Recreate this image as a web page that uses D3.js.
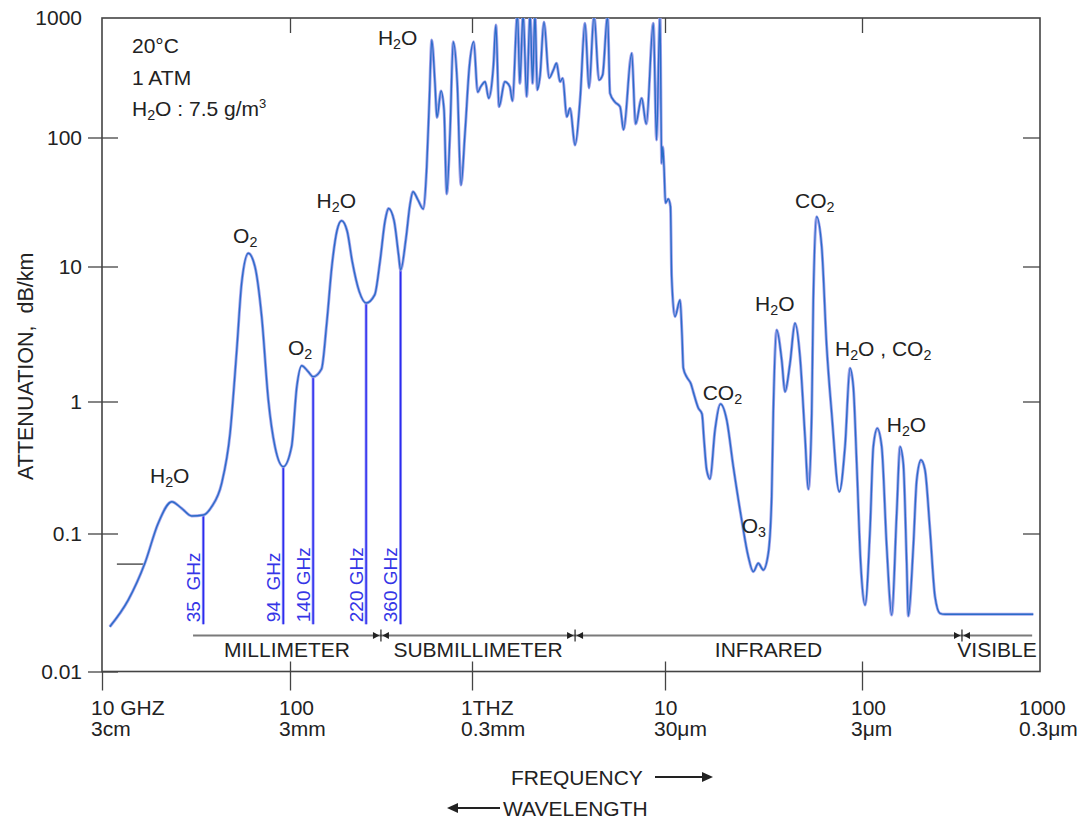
<!DOCTYPE html>
<html><head><meta charset="utf-8">
<script src="https://cdn.jsdelivr.net/npm/d3@7"></script>
<style>
body{margin:0;background:#fff;}
svg text{font-family:"Liberation Sans", Arial, Helvetica, sans-serif;fill:#222;}
</style></head><body>
<svg id="chart" width="1081" height="819"></svg>
<script>
// ---------- DATA (frequency in GHz, attenuation in dB/km) ----------
const mmFreq = [11.0,13.8,16.9,19.9,23.5,26.5,30.0,34.6,38.3,43.3,48.0,52.1,55.3,60.0,65.1,70.7,76.7,83.2,92.1,
  102,109,116,126,134,149,159,170,181,192,206,220,240,262,292,312,333,348,373,395,405];
const mmAtten = [0.0211,0.033,0.0608,0.1195,0.1741,0.1552,0.1357,0.138,0.1596,0.24,0.574,2.41,7.51,12.66,9.97,4.25,1.026,0.4545,0.3207,
  0.4545,1.287,1.842,1.662,1.526,1.741,3.75,10.18,18.84,22.65,18.84,10.84,6.54,5.37,6.17,10.84,22.65,28.15,22.65,12.28,9.42];

const submmFreq = [434,456,474,505,540,564,583,601,626,642,676,702,726,757,789,830,870,915,967,
  1020,1070,1110,1170,1220,1290,1330,1380,1480,1570,1620,1720,1770,1840,1920,2000,2060,2120,2180,2250,2360,
  2510,2640,2740,2860,2950,3100,3220,3420,3630,3850,4040,4290,4550,4750,5040,5190,5510,5850,6100,6720,
  7040,7570,8000,8700,9040,9420,9610,9730,9880];
const submmAtten = [16.63,29.97,38.0,32.77,27.9,59.4,205.9,654.5,284.2,147.0,245,169.9,36.5,108.4,633,284,42.8,108.4,391,
  633,240,266,293,213,391,874,181,293,266,202,1100,284,1100,220,1100,284,1100,250,323,926,
  315,367,418,293,313,149,176,87.5,206,903,260,1050,303,333,1050,234,198,181,116,507,
  130,213,130,903,95.6,1050,63.1,84.9,59.4];

const irFreq = [10060,10390,10660,10810,11240,11920,12200,12390,12890,13550,13920,14760,15410,15780,16280,16920,17940,19130,
  20570,22220,24510,26480,28070,29760,31550,33450,34790,35450,36900,39120,40660,43110,45700,48450,51370,53390,55560,56600,
  58880,62430,66190,70170,76690,81990,86930,90340,93990,98490];
const irAtten = [31.05,33.38,29.1,8.40,4.25,5.65,3.11,1.77,1.519,1.348,1.176,0.893,0.804,0.511,0.303,0.2588,0.608,0.957,
  0.724,0.321,0.1265,0.0679,0.0529,0.0608,0.0544,0.0719,0.190,0.814,3.385,2.029,1.182,1.919,3.796,2.147,0.541,0.2162,0.814,5.65,
  24.32,14.24,2.546,0.814,0.2073,0.4545,1.762,1.287,0.340,0.0608];

const nearIrFreq = [104200,111600,116800,123300,131000,140300,150200,160900,168400,176100,184500,188600,202000,211700,
  224500,237100,254000,272000,291200,311900,1046000];
const nearIrAtten = [0.0303,0.1063,0.4545,0.626,0.4545,0.0802,0.02567,0.1422,0.4545,0.340,0.0608,0.02525,0.0802,0.2542,
  0.3603,0.303,0.1063,0.03483,0.02641,0.026,0.026];

// axis ticks
const yTickValues = [1000,100,10,1,0.1,0.01];
const yTickLabels = ["1000","100","10","1","0.1","0.01"];
const xTickValues = [10,100,1000,10000,100000,1000000];
const xTickFreqLabels = ["10 GHZ","100","1THZ","10","100","1000"];
const xTickWaveLabels = ["3cm","3mm","0.3mm","30\u03bcm","3\u03bcm","0.3\u03bcm"];

// window markers (positions)
const windowLabels = ["35  GHz","94  GHz","140 GHz","220 GHz","360 GHz"];
const windowFreq = [34.6,92.1,134,262,405];
const windowAtten = [0.138,0.3207,1.526,5.37,9.42];
const windowBase = 0.022;

// molecule labels (anchor = start of text, baseline), in data units
const moleculeLabels = ["H_2O","O_2","O_2","H_2O","H_2O","CO_2","O_3","H_2O","CO_2","H_2O , CO_2","H_2O"];
const moleculeFreq = [18.0,49.8,97.6,140,304,15540,24510,28640,45700,72940,140300];
const moleculeAtten = [0.241,15.2,2.21,28.4,594,1.03,0.101,4.68,28.4,2.17,0.587];

// spectral regions
const regionNames = ["MILLIMETER","SUBMILLIMETER","INFRARED","VISIBLE"];
const regionBounds = [30.5,316,3420,393600,1030000];

const conditions = ["20\u00b0C","1 ATM","H_2O : 7.5 g/m^3"];
const refDashFreq = [12.0,16.9];
const refDashAtten = 0.06;

// ---------- CHART ----------
const svg = d3.select("#chart");
const L = 102, R = 1040, T = 18, B = 671.5;

const x = d3.scaleLog().domain(xTickValues).range([102,290,472,665,862,1030]);
const y = d3.scaleLog().domain(yTickValues).range([18,137.5,266.5,401.5,533.5,671.5]);

const curveData = d3.zip(mmFreq.concat(submmFreq, irFreq, nearIrFreq),
                         mmAtten.concat(submmAtten, irAtten, nearIrAtten));

function rich(textSel, str, size){
  let shift = 0;
  const parts = str.match(/[_^]\d|[^_^]+/g);
  parts.forEach(p => {
    let target = 0, s = size, t = p;
    if (p[0] === '_') { target = size*0.2; s = size*0.68; t = p[1]; }
    else if (p[0] === '^') { target = -size*0.38; s = size*0.62; t = p[1]; }
    textSel.append("tspan").attr("dy", target - shift).attr("font-size", s).text(t);
    shift = target;
  });
}

svg.append("defs").append("clipPath").attr("id","plotclip")
  .append("rect").attr("x",L).attr("y",T).attr("width",R-L).attr("height",B-T);

// axes ticks
const tickStyle = g => { g.select(".domain").remove(); g.selectAll("line").attr("stroke","#444").attr("stroke-width",1.3); };

svg.append("g").attr("transform",`translate(${L},0)`)
  .call(d3.axisLeft(y).tickValues(yTickValues).tickSizeInner(14).tickSizeOuter(0).tickPadding(6)
        .tickFormat((d,i)=>yTickLabels[i]))
  .call(tickStyle)
  .call(g => { g.selectAll("text").attr("font-size",21).attr("font-family","Liberation Sans, Arial, sans-serif").attr("fill","#222");
               g.selectAll(".tick").filter(d=>d===1000).select("line").remove(); });
svg.append("g").attr("transform",`translate(${L},0)`)
  .call(d3.axisRight(y).tickValues(yTickValues.slice(1)).tickSize(16).tickFormat(""))
  .call(tickStyle);
svg.append("g").attr("transform",`translate(${R},0)`)
  .call(d3.axisLeft(y).tickValues(yTickValues.slice(1,5)).tickSize(17).tickFormat(""))
  .call(tickStyle);
svg.append("g").attr("transform",`translate(0,${T})`)
  .call(d3.axisBottom(x).tickValues(xTickValues.slice(1,5)).tickSize(15).tickFormat(""))
  .call(tickStyle);
svg.append("g").attr("transform",`translate(0,${B})`)
  .call(d3.axisBottom(x).tickValues(xTickValues.slice(0,5)).tickSize(19).tickFormat(""))
  .call(tickStyle);
svg.append("g").attr("transform",`translate(0,${B})`)
  .call(d3.axisTop(x).tickValues(xTickValues.slice(1,5)).tickSize(10).tickFormat(""))
  .call(tickStyle);

// frame
svg.append("rect").attr("x",L).attr("y",T).attr("width",R-L).attr("height",B-T)
  .attr("fill","none").attr("stroke","#444").attr("stroke-width",1.6);

// x tick labels (two lines)
const xl = svg.append("g").attr("font-size",21);
xTickValues.forEach((v,i)=>{
  xl.append("text").attr("x",x(v)-11).attr("y",715).text(xTickFreqLabels[i]);
  xl.append("text").attr("x",x(v)-11).attr("y",736).text(xTickWaveLabels[i]);
});

// y axis title
svg.append("text").attr("transform","translate(33,480) rotate(-90)")
  .attr("font-size",21.5).style("white-space","pre").text("ATTENUATION,  dB/km");

// reference dash
svg.append("line").attr("x1",x(refDashFreq[0])).attr("x2",x(refDashFreq[1]))
  .attr("y1",y(refDashAtten)).attr("y2",y(refDashAtten)).attr("stroke","#555").attr("stroke-width",1.5);

// window marker lines
const wm = svg.append("g");
windowFreq.forEach((f,i)=>{
  wm.append("line").attr("x1",x(f)).attr("x2",x(f)).attr("y1",y(windowAtten[i])).attr("y2",y(windowBase))
    .attr("stroke","#9c9cf5").attr("stroke-width",3);
  wm.append("line").attr("x1",x(f)).attr("x2",x(f)).attr("y1",y(windowAtten[i])).attr("y2",y(windowBase))
    .attr("stroke","#2b2bf0").attr("stroke-width",1.4);
  wm.append("text").attr("transform",`translate(${x(f)-3.5},${y(windowBase)-2}) rotate(-90)`)
    .attr("font-size",19).style("white-space","pre").style("fill","#3535e6").text(windowLabels[i]);
});

// attenuation curve
const line = d3.line().x(d=>x(d[0])).y(d=>y(d[1])).curve(d3.curveMonotoneX);
const cg = svg.append("g").attr("clip-path","url(#plotclip)");
cg.append("path").datum(curveData).attr("d",line).attr("fill","none")
  .attr("stroke","#a4a4ec").attr("stroke-width",3);
cg.append("path").datum(curveData).attr("d",line).attr("fill","none")
  .attr("stroke","#2a6cc8").attr("stroke-width",1.4);

// molecule labels
moleculeLabels.forEach((s,i)=>{
  const t = svg.append("text").attr("x",x(moleculeFreq[i])).attr("y",y(moleculeAtten[i])).attr("font-size",21).style("white-space","pre");
  rich(t, s, 21);
});

// conditions
conditions.forEach((s,i)=>{
  const t = svg.append("text").attr("x",132).attr("y",53 + i*31.5).attr("font-size",21);
  rich(t, s, 21);
});

// spectral region bar
const barY = 635.5;
const rb = svg.append("g");
rb.append("line").attr("x1",x(regionBounds[0])).attr("x2",x(regionBounds[regionBounds.length-1]))
  .attr("y1",barY).attr("y2",barY).attr("stroke","#7a7a7a").attr("stroke-width",2.2);
regionBounds.slice(1,-1).forEach(b=>{
  const bx = x(b);
  rb.append("line").attr("x1",bx).attr("x2",bx).attr("y1",barY-6).attr("y2",barY+6).attr("stroke","#222").attr("stroke-width",1.2);
  rb.append("path").attr("d",`M${bx-8},${barY-3.5}L${bx-1.5},${barY}L${bx-8},${barY+3.5}Z`).attr("fill","#222");
  rb.append("path").attr("d",`M${bx+8},${barY-3.5}L${bx+1.5},${barY}L${bx+8},${barY+3.5}Z`).attr("fill","#222");
});
regionNames.forEach((n,i)=>{
  const cx = (x(regionBounds[i]) + x(regionBounds[i+1]))/2;
  rb.append("text").attr("x",cx).attr("y",657).attr("text-anchor","middle").attr("font-size",21).text(n);
});

// frequency / wavelength arrows
const ar = svg.append("g");
ar.append("text").attr("x",511).attr("y",785).attr("font-size",21).text("FREQUENCY");
ar.append("line").attr("x1",655).attr("x2",704).attr("y1",777).attr("y2",777).attr("stroke","#222").attr("stroke-width",2);
ar.append("path").attr("d","M702,772L713,777L702,782Z").attr("fill","#222");
ar.append("text").attr("x",503).attr("y",816).attr("font-size",21).text("WAVELENGTH");
ar.append("line").attr("x1",456).attr("x2",500).attr("y1",808).attr("y2",808).attr("stroke","#222").attr("stroke-width",2);
ar.append("path").attr("d","M458,803L447,808L458,813Z").attr("fill","#222");
</script>
</body></html>
